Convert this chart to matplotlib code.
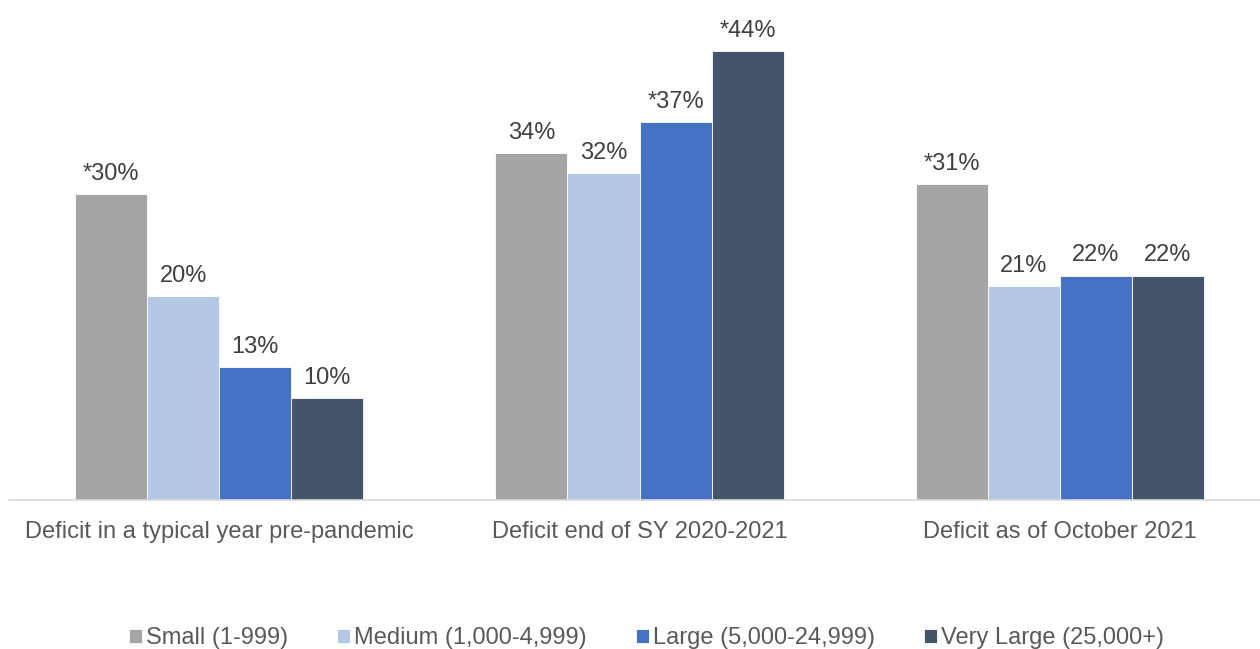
import matplotlib.pyplot as plt
import numpy as np

plt.rcParams['font.family'] = ['Liberation Sans', 'DejaVu Sans']

categories = ['Deficit in a typical year pre-pandemic', 'Deficit end of SY 2020-2021',
              'Deficit as of October 2021']
series = ['Small (1-999)', 'Medium (1,000-4,999)', 'Large (5,000-24,999)', 'Very Large (25,000+)']
values = [
    [30, 34, 31],
    [20, 32, 21],
    [13, 37, 22],
    [10, 44, 22],
]
labels = [
    ['*30%', '34%', '*31%'],
    ['20%', '32%', '21%'],
    ['13%', '*37%', '22%'],
    ['10%', '*44%', '22%'],
]
colors = ['#A5A5A5', '#B4C7E7', '#4472C4', '#44546A']

fig = plt.figure(figsize=(12.6, 6.49), dpi=100)
ax = fig.add_axes([9/1260, 149/649, 1251/1260, 500/649])

x = np.arange(len(categories))
w = 72/420
for i, (s, v, lab, c) in enumerate(zip(series, values, labels, colors)):
    pos = x + (i - 1.5)*w
    bars = ax.bar(pos, v, width=w, color=c, label=s, edgecolor='white', linewidth=0.6)
    for b, t in zip(bars, lab):
        ax.annotate(t, (b.get_x() + b.get_width()/2, b.get_height()),
                    xytext=(0, 6.5), textcoords='offset points',
                    ha='center', va='bottom', fontsize=17, color='#404040')

ax.set_xlim(-0.5, 2.476)
ax.set_ylim(0, 49)
ax.set_xticks(x)
ax.set_xticklabels(categories, fontsize=17, color='#595959')
ax.tick_params(axis='x', length=0, pad=15)
ax.set_yticks([])
for sp in ['top', 'right', 'left']:
    ax.spines[sp].set_visible(False)
ax.spines['bottom'].set_color('#D9D9D9')
ax.spines['bottom'].set_linewidth(1.2)

fig.legend(loc='center', bbox_to_anchor=(0.513, 1 - 638/649), ncol=4, frameon=False,
           fontsize=17, labelcolor='#595959', handlelength=0.55, handleheight=0.55,
           handletextpad=0.15, columnspacing=2.1)

fig.savefig('out.png', dpi=100)
